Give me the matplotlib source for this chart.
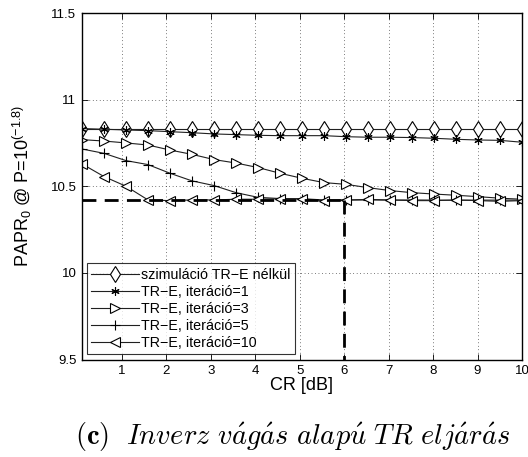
import numpy as np
import matplotlib
matplotlib.use("Agg")
import matplotlib.pyplot as plt

cr = np.linspace(0.1, 10, 21)

no_tre = [10.832] * 21
iter1 = [10.833, 10.829, 10.825, 10.821, 10.815, 10.809, 10.802, 10.798, 10.794, 10.792,
         10.792, 10.792, 10.786, 10.783, 10.783, 10.781, 10.777, 10.771, 10.767, 10.765, 10.754]
iter3 = [10.769, 10.761, 10.750, 10.738, 10.709, 10.684, 10.654, 10.634, 10.608, 10.575,
         10.546, 10.521, 10.511, 10.492, 10.475, 10.463, 10.455, 10.448, 10.440, 10.431, 10.425]
iter5 = [10.715, 10.690, 10.648, 10.625, 10.575, 10.531, 10.504, 10.463, 10.436, 10.429,
         10.428, 10.421, 10.420, 10.421, 10.420, 10.421, 10.420, 10.419, 10.420, 10.420, 10.420]
iter10 = [10.629, 10.556, 10.500, 10.421, 10.417, 10.421, 10.421, 10.425, 10.425, 10.428,
          10.427, 10.417, 10.421, 10.424, 10.421, 10.417, 10.417, 10.421, 10.417, 10.413, 10.417]

labels = ["szimuláció TR−E nélkül", "TR−E, iteráció=1", "TR−E, iteráció=3",
          "TR−E, iteráció=5", "TR−E, iteráció=10"]
markers = ["d", (6, 2, 0), ">", "+", "<"]
msizes = [8.5, 6, 6.5, 7, 6.5]

ref_level = 10.42
ref_cr = 6

xticks = [1, 2, 3, 4, 5, 6, 7, 8, 9, 10]
yticks = [9.5, 10, 10.5, 11, 11.5]
yticklabels = ["9.5", "10", "10.5", "11", "11.5"]

plt.rcParams['font.family'] = ['Liberation Sans', 'DejaVu Sans']
plt.rcParams['mathtext.fontset'] = 'custom'
plt.rcParams['mathtext.rm'] = 'Liberation Sans'
plt.rcParams['mathtext.it'] = 'Liberation Sans:italic'

fig = plt.figure(figsize=(5.28, 4.57), dpi=100)
ax = fig.add_axes([82/528, 1 - 359.5/457, 440/528, 346.5/457])

series = [no_tre, iter1, iter3, iter5, iter10]
for s, m, lab, ms in zip(series, markers, labels, msizes):
    ax.plot(cr, s, color='#202020', lw=0.8, marker=m, ms=ms, mfc='white', mec='black',
            mew=0.8, label=lab, clip_on=True)

ax.plot([cr[0], ref_cr], [ref_level, ref_level], color='black', lw=2, dashes=(5, 3))
ax.plot([ref_cr, ref_cr], [ref_level, 9.5], color='black', lw=2, dashes=(5, 3))

ax.set_xlim(0.1, 10)
ax.set_ylim(9.5, 11.5)
ax.set_xticks(xticks)
ax.set_yticks(yticks)
ax.set_yticklabels(yticklabels)
ax.tick_params(direction='in', length=4, width=0.6, top=True, right=True, labelsize=9.5, pad=4)
ax.grid(True, color='black', linestyle=(0, (1, 4)), linewidth=0.5)
for sp in ax.spines.values():
    sp.set_linewidth(1.0)

ax.set_xlabel("CR [dB]", fontsize=13, labelpad=0)
ax.set_ylabel(r"PAPR$_0$ @ P=10$^{(-1.8)}$", fontsize=13, labelpad=12)

leg = ax.legend(loc='lower left', bbox_to_anchor=(0.0, 0.0), fontsize=10.3, frameon=True,
                fancybox=False, edgecolor='black', borderpad=0.3, labelspacing=0.22,
                handlelength=3.3, handletextpad=0.2, borderaxespad=0.35)
leg.get_frame().set_linewidth(0.8)

fig.text(293/528, 1 - 437/457,
         r"$\mathbf{(c)}\ \ \mathit{Inverz\ v\acute{a}g\acute{a}s\ alap\acute{u}\ TR\ elj\acute{a}r\acute{a}s}$",
         ha='center', va='center', fontsize=20.5, math_fontfamily='cm')

fig.savefig("out.png", dpi=100)
